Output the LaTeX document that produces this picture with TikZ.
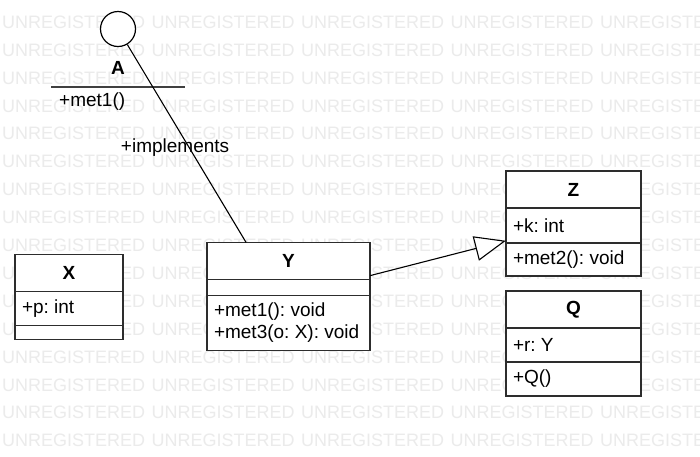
\documentclass[tikz,border=0pt]{standalone}
\usepackage{fontspec}
\setmainfont{Liberation Sans}
\usetikzlibrary{positioning, calc, fit, arrows.meta}
\frenchspacing

\definecolor{wmgray}{RGB}{235,235,235}
\definecolor{boxline}{RGB}{45,45,45}
\newcommand{\umlfont}{\fontsize{19}{22}\selectfont}

\tikzset{
  wmark/.style={anchor=base west, inner sep=0pt, text=wmgray, font=\fontsize{18}{22}\selectfont},
  clshead/.style={draw=boxline, fill=white, line width=1.2pt, outer sep=0pt, inner sep=0pt,
    minimum width=#1, minimum height=37pt, font=\umlfont\bfseries},
  clspart/.style 2 args={draw=boxline, fill=white, line width=1.2pt, outer sep=0pt,
    inner xsep=7pt, inner ysep=1pt, text width=#1, minimum height=#2, align=flush left, font=\umlfont},
  ifcircle/.style={circle, draw=black, fill=white, line width=1.2pt, minimum size=35pt, inner sep=0pt},
  impl/.style={draw=black, line width=1.1pt},
  gen/.style={draw=black, line width=1.1pt, -{Triangle[open, fill=white, length=31pt, width=25pt]}}
}

\begin{document}
\begin{tikzpicture}[x=1pt, y=-1pt]
  \useasboundingbox (0,0) rectangle (700,456);
  \fill[white] (0,0) rectangle (700,456);

  % watermark
  \foreach \r in {0,...,15}
    \foreach \c in {0,...,4}
      \node[wmark] (wm-\r-\c) at ({2+\c*149.5}, {28.3+\r*27.9}) {UNREGISTERED};

  % interface A
  \node[ifcircle] (Ai) at (118,29) {};
  \node[font=\umlfont\bfseries] (An) at (118,68) {A};
  \draw[line width=1.5pt, draw=black!75] (51,87) -- (185,87);
  \node[anchor=west, inner sep=0pt, font=\umlfont] (Am) at (59,102) {+met1()};

  % class Y
  \node[clshead=163pt] (Yh) at (288.5,261) {Y};
  \node[clspart={149pt}{16pt}, below=0pt of Yh] (Ya) {};
  \node[clspart={149pt}{55pt}, below=0pt of Ya] (Ym) {+met1(): void\\+met3(o: X): void};
  \node[fit=(Yh)(Ym), inner sep=0pt] (Y) {};

  % class Z
  \node[clshead=135pt] (Zh) at (573.5,189.5) {Z};
  \node[clspart={121pt}{35pt}, below=0pt of Zh] (Za) {+k: int};
  \node[clspart={121pt}{33pt}, below=0pt of Za] (Zm) {+met2(): void};
  \node[fit=(Zh)(Zm), inner sep=0pt] (Z) {};

  % class Q
  \node[clshead=135pt] (Qh) at (573.5,309.5) {Q};
  \node[clspart={121pt}{34pt}, below=0pt of Qh] (Qa) {+r: Y};
  \node[clspart={121pt}{34pt}, below=0pt of Qa] (Qm) {+Q()};

  % class X
  \node[clshead=108pt] (Xh) at (69,273) {X};
  \node[clspart={94pt}{34pt}, below=0pt of Xh] (Xa) {+p: int};
  \node[clspart={94pt}{14pt}, below=0pt of Xa] (Xm) {};

  % connectors
  \coordinate (Ytop) at ($(Yh.north west)!0.24!(Yh.north east)$);
  \draw[impl] (Ai) -- (Ytop) node[pos=0.52, xshift=-14pt, font=\umlfont] (Ilab) {+implements};
  \draw[gen] (Y) -- (Z);
\end{tikzpicture}
\end{document}
